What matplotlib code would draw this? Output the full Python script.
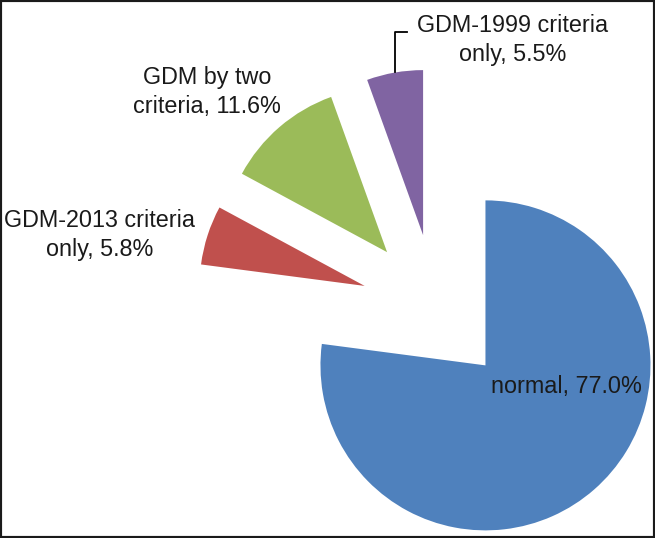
import matplotlib.pyplot as plt
from matplotlib.patches import Rectangle

categories = ["normal", "GDM-2013 criteria\nonly", "GDM by two\ncriteria", "GDM-1999 criteria\nonly"]
shares = [77.0, 5.8, 11.6, 5.5]
colors = ["#4F81BD", "#C0504D", "#9BBB59", "#8064A2"]

W, H = 655, 538
fig = plt.figure(figsize=(W / 100, H / 100), dpi=100)
ax = fig.add_axes([0, 0, 1, 1])

# work in pixel-like units, y going up
cx, cy = 436, H - 309
radius = 165
explode = [75] * len(shares)

ax.pie(shares, colors=colors, startangle=90, counterclock=False,
       center=(cx, cy), radius=radius, explode=explode,
       wedgeprops=dict(linewidth=0))
ax.set_xlim(0, W)
ax.set_ylim(0, H)
ax.set_aspect("equal")
ax.axis("off")

labels = [f"{c}, {s:.1f}%" for c, s in zip(categories, shares)]
label_pos = [(566, H - 387), (100, H - 235), (207, H - 92), (513, H - 40)]
for text, (x, y) in zip(labels, label_pos):
    ax.text(x, y, text, ha="center", va="center", fontsize=16.8,
            family="Liberation Sans", color="#1a1a1a", linespacing=1.3)

# leader line for the small purple slice
ax.plot([395, 395, 407], [H - 72, H - 32, H - 32], color="black", lw=1.3)

fig.add_artist(Rectangle((0, 0), 1, 1, transform=fig.transFigure, fill=False,
                         edgecolor="#1a1a1a", linewidth=3))

fig.savefig("out.png", dpi=100)
